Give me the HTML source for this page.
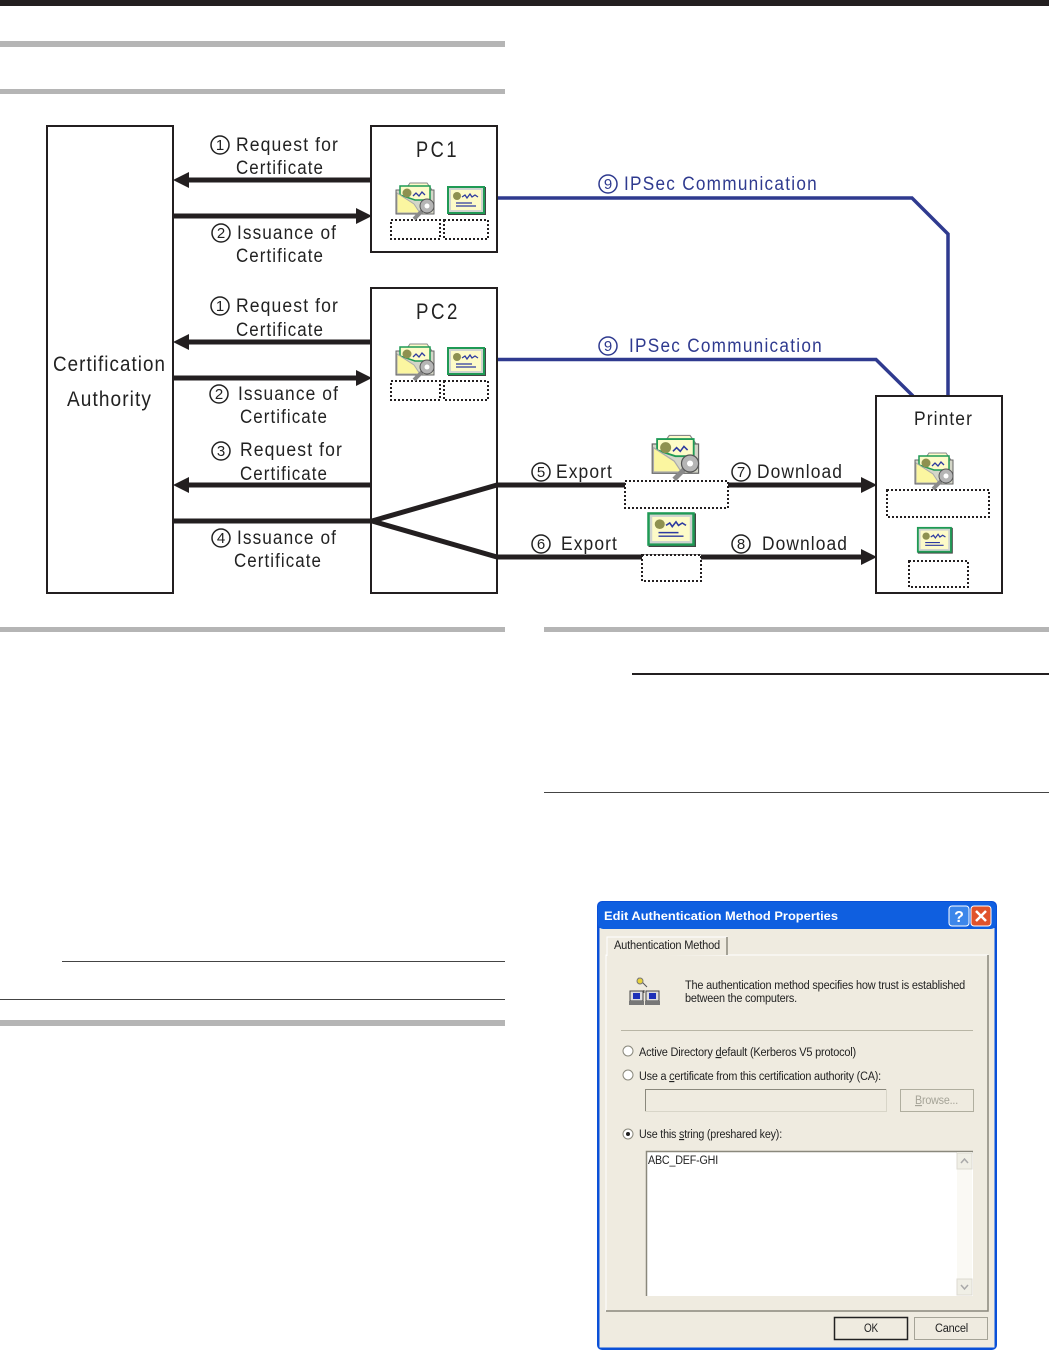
<!DOCTYPE html>
<html>
<head>
<meta charset="utf-8">
<style>
html,body{margin:0;padding:0;background:#fff}
svg{display:block}
text{font-family:"Liberation Sans",sans-serif}
.l{font-size:19px;fill:#222;letter-spacing:1.2px}
.b{font-size:19px;fill:#2f3a8f;letter-spacing:1.4px}
.n{font-size:15px;fill:#222;text-anchor:middle}
.d{font-size:11.5px;fill:#222;letter-spacing:-.2px}
</style>
</head>
<body>
<svg width="1049" height="1350" viewBox="0 0 1049 1350" xmlns="http://www.w3.org/2000/svg">
<defs>
<g id="cert">
<rect x="2" y="2" width="38" height="28" fill="#444"/>
<rect x="1" y="1" width="38" height="28" fill="#1f9a55"/>
<rect x="3" y="3" width="34" height="24" fill="#cfd3cf"/>
<rect x="5" y="5" width="30" height="20" fill="#fdfbc8"/>
<circle cx="11" cy="11" r="4" fill="#8e9150"/>
<path d="M16 12l3-2 2 3 3-4 2 3 3-2 3 2" fill="none" stroke="#2d3aa0" stroke-width="1.3"/>
<path d="M10 18h16M10 21h20" stroke="#2d3aa0" stroke-width="1.2"/>
</g>
<g id="env">
<path d="M10 9l5-7h17l5 7z" fill="#fdfbc8" stroke="#888"/>
<rect x="1" y="9" width="38" height="24" fill="#d4d6c8" stroke="#666"/>
<path d="M5 14V5h30v14H20z" fill="#fdfbc8" stroke="#1f9a55" stroke-width="1.5"/>
<path d="M2 32V12l17 11 6 9z" fill="#fbf6a0" stroke="#aaa"/>
<circle cx="12" cy="12" r="4.5" fill="#8e9150"/>
<path d="M18 15l3-3 3 3 3-4 3 3" fill="none" stroke="#2d3aa0" stroke-width="1.3"/>
<path d="M29 28L19 38" stroke="#8a8a8a" stroke-width="4"/>
<circle cx="32" cy="25" r="7" fill="#b5b5b5" stroke="#555"/>
<circle cx="32" cy="25" r="2.5" fill="#fff"/>
</g>
<g id="c"><circle r="9" fill="#fff" stroke="#222" stroke-width="1.5"/></g>
</defs>

<!-- page rules -->
<rect x="0" y="0" width="1049" height="6" fill="#231f20"/>
<rect x="0" y="41" width="505" height="6" fill="#b5b5b5"/>
<rect x="0" y="89" width="505" height="5" fill="#b5b5b5"/>
<rect x="0" y="627" width="505" height="5" fill="#b5b5b5"/>
<rect x="544" y="627" width="505" height="5" fill="#b5b5b5"/>
<rect x="0" y="1020" width="505" height="6" fill="#b5b5b5"/>
<rect x="632" y="673" width="417" height="2" fill="#231f20"/>
<rect x="544" y="792" width="505" height="1" fill="#444"/>
<rect x="62" y="961" width="443" height="1" fill="#444"/>
<rect x="0" y="999" width="505" height="1" fill="#444"/>

<!-- blue links -->
<path d="M497 198H912L948 234V397" fill="none" stroke="#2f3a8f" stroke-width="3.5"/>
<path d="M497 359.500H876L913 396" fill="none" stroke="#2f3a8f" stroke-width="3.500"/>

<!-- boxes -->
<g fill="#fff" stroke="#231f20" stroke-width="2">
<rect x="47" y="126" width="126" height="467"/>
<rect x="371" y="126" width="126" height="126"/>
<rect x="371" y="288" width="126" height="305"/>
<rect x="876" y="396" width="126" height="197"/>
</g>

<!-- black arrows -->
<g stroke="#231f20" stroke-width="5" fill="none">
<path d="M186 180H371"/>
<path d="M173 216H358"/>
<path d="M186 342H371"/>
<path d="M173 378H358"/>
<path d="M186 485H371"/>
<path d="M173 521H372"/>
<path d="M372 521L497 485H862"/>
<path d="M372 521L497 557H862"/>
</g>
<g fill="#231f20">
<path d="M173 180l16-8v16z"/>
<path d="M372 216l-16-8v16z"/>
<path d="M173 342l16-8v16z"/>
<path d="M372 378l-16-8v16z"/>
<path d="M173 485l16-8v16z"/>
<path d="M877 485l-16-8v16z"/>
<path d="M877 557l-16-8v16z"/>
</g>

<!-- box titles -->
<text class="l" x="53" y="371" style="font-size:21px" textLength="113" lengthAdjust="spacingAndGlyphs">Certification</text>
<text class="l" x="67" y="406" style="font-size:21px" textLength="85" lengthAdjust="spacingAndGlyphs">Authority</text>
<text class="l" x="416" y="157" style="font-size:22px;letter-spacing:3px" textLength="43" lengthAdjust="spacingAndGlyphs">PC1</text>
<text class="l" x="416" y="319" style="font-size:22px;letter-spacing:3px" textLength="44" lengthAdjust="spacingAndGlyphs">PC2</text>
<text class="l" x="914" y="425" textLength="59" lengthAdjust="spacingAndGlyphs">Printer</text>

<!-- dotted boxes -->
<g fill="#fff" stroke="#231f20" stroke-width="2" stroke-dasharray="2 2">
<rect x="391" y="220" width="49" height="19"/>
<rect x="444" y="220" width="44" height="19"/>
<rect x="391" y="381" width="49" height="19"/>
<rect x="444" y="381" width="44" height="19"/>
<rect x="625" y="481" width="103" height="27"/>
<rect x="642" y="555" width="59" height="26"/>
<rect x="887" y="490" width="102" height="27"/>
<rect x="909" y="561" width="59" height="26"/>
</g>

<!-- certificate icons -->
<use href="#env" x="395" y="181"/>
<use href="#cert" x="446" y="185"/>
<use href="#env" x="395" y="342"/>
<use href="#cert" x="446" y="346"/>
<use href="#env" transform="translate(651 433) scale(1.22)"/>
<use href="#cert" transform="translate(646 511) scale(1.25 1.2)"/>
<use href="#env" x="914" y="451"/>
<use href="#cert" transform="translate(916 526) scale(.92)"/>

<!-- labels left -->
<use href="#c" x="220" y="145"/><text class="n" x="220" y="150">1</text>
<text class="l" x="236" y="151" textLength="103" lengthAdjust="spacingAndGlyphs">Request for</text>
<text class="l" x="236" y="174" textLength="88" lengthAdjust="spacingAndGlyphs">Certificate</text>
<use href="#c" x="221" y="233"/><text class="n" x="221" y="238">2</text>
<text class="l" x="237" y="239" textLength="100" lengthAdjust="spacingAndGlyphs">Issuance of</text>
<text class="l" x="236" y="262" textLength="88" lengthAdjust="spacingAndGlyphs">Certificate</text>
<use href="#c" x="220" y="306"/><text class="n" x="220" y="311">1</text>
<text class="l" x="236" y="312" textLength="103" lengthAdjust="spacingAndGlyphs">Request for</text>
<text class="l" x="236" y="336" textLength="88" lengthAdjust="spacingAndGlyphs">Certificate</text>
<use href="#c" x="219" y="394"/><text class="n" x="219" y="399">2</text>
<text class="l" x="238" y="400" textLength="101" lengthAdjust="spacingAndGlyphs">Issuance of</text>
<text class="l" x="240" y="423" textLength="88" lengthAdjust="spacingAndGlyphs">Certificate</text>
<use href="#c" x="221" y="451"/><text class="n" x="221" y="456">3</text>
<text class="l" x="240" y="456" textLength="103" lengthAdjust="spacingAndGlyphs">Request for</text>
<text class="l" x="240" y="480" textLength="88" lengthAdjust="spacingAndGlyphs">Certificate</text>
<use href="#c" x="221" y="538"/><text class="n" x="221" y="543">4</text>
<text class="l" x="237" y="544" textLength="100" lengthAdjust="spacingAndGlyphs">Issuance of</text>
<text class="l" x="234" y="567" textLength="88" lengthAdjust="spacingAndGlyphs">Certificate</text>

<!-- labels right -->
<use href="#c" x="541" y="472"/><text class="n" x="541" y="477">5</text>
<text class="l" x="556" y="478" textLength="57" lengthAdjust="spacingAndGlyphs">Export</text>
<use href="#c" x="541" y="544"/><text class="n" x="541" y="549">6</text>
<text class="l" x="561" y="550" textLength="57" lengthAdjust="spacingAndGlyphs">Export</text>
<use href="#c" x="741" y="472"/><text class="n" x="741" y="477">7</text>
<text class="l" x="757" y="478" textLength="86" lengthAdjust="spacingAndGlyphs">Download</text>
<use href="#c" x="741" y="544"/><text class="n" x="741" y="549">8</text>
<text class="l" x="762" y="550" textLength="86" lengthAdjust="spacingAndGlyphs">Download</text>

<circle cx="608" cy="184" r="9" fill="#fff" stroke="#2f3a8f" stroke-width="1.500"/>
<text class="n" x="608" y="189" style="fill:#2f3a8f">9</text>
<text class="b" x="624" y="190" textLength="194" lengthAdjust="spacingAndGlyphs">IPSec Communication</text>
<circle cx="608" cy="346" r="9" fill="#fff" stroke="#2f3a8f" stroke-width="1.500"/>
<text class="n" x="608" y="351" style="fill:#2f3a8f">9</text>
<text class="b" x="629" y="352" textLength="194" lengthAdjust="spacingAndGlyphs">IPSec Communication</text>

<!-- dialog -->
<rect x="597" y="901" width="400" height="449" rx="5" fill="#0a50d8"/>
<rect x="599.500" y="928" width="395" height="419.500" fill="#efebe0"/>
<rect x="598" y="902" width="398" height="27" rx="5" fill="#0f5fe0"/>
<text x="604" y="920" style="font-size:12px;font-weight:bold;fill:#fff" textLength="234" lengthAdjust="spacingAndGlyphs">Edit Authentication Method Properties</text>
<rect x="949" y="906" width="20" height="20" rx="3" fill="#3c86ea" stroke="#fff"/>
<text x="959" y="922" text-anchor="middle" style="font-size:16px;font-weight:bold;fill:#fff">?</text>
<rect x="971" y="906" width="20" height="20" rx="3" fill="#e0532c" stroke="#fff"/>
<path d="M976 911l10 10M986 911l-10 10" stroke="#fff" stroke-width="2.500"/>

<rect x="606" y="955" width="382" height="356" fill="#efebe0" stroke="#fff"/>
<path d="M988 955V1311H606" fill="none" stroke="#8a887c" stroke-width="1.500"/>
<path d="M607 956V937h120v18" fill="#efebe0" stroke="#fff"/>
<path d="M727 937v18" stroke="#8a887c" stroke-width="1.500"/>
<text class="d" x="614" y="949" textLength="106" lengthAdjust="spacingAndGlyphs">Authentication Method</text>

<path d="M638 978l9 9M644 990v3" stroke="#555" fill="none"/>
<circle cx="640" cy="981" r="3" fill="#e8d23a" stroke="#777"/>
<rect x="630" y="991" width="13" height="10" fill="#ddd" stroke="#444"/>
<rect x="633" y="993" width="7" height="6" fill="#1c30b8"/>
<rect x="646" y="991" width="13" height="10" fill="#ddd" stroke="#444"/>
<rect x="649" y="993" width="7" height="6" fill="#1c30b8"/>
<rect x="629" y="1001" width="15" height="4" fill="#777"/>
<rect x="645" y="1001" width="15" height="4" fill="#777"/>
<text class="d" x="685" y="989" textLength="280" lengthAdjust="spacingAndGlyphs">The authentication method specifies how trust is established</text>
<text class="d" x="685" y="1002" textLength="112" lengthAdjust="spacingAndGlyphs">between the computers.</text>
<rect x="621" y="1030" width="352" height="1" fill="#b8b5a5"/>

<g fill="#fff" stroke="#8a887c"><circle cx="628" cy="1051" r="5"/><circle cx="628" cy="1075" r="5"/><circle cx="628" cy="1134" r="5"/></g>
<circle cx="628" cy="1134" r="2" fill="#222"/>
<text class="d" x="639" y="1056" textLength="217" lengthAdjust="spacingAndGlyphs">Active Directory <tspan text-decoration="underline">d</tspan>efault (Kerberos V5 protocol)</text>
<text class="d" x="639" y="1080" textLength="242" lengthAdjust="spacingAndGlyphs">Use a <tspan text-decoration="underline">c</tspan>ertificate from this certification authority (CA):</text>
<text class="d" x="639" y="1138" textLength="143" lengthAdjust="spacingAndGlyphs">Use this <tspan text-decoration="underline">s</tspan>tring (preshared key):</text>

<rect x="645.500" y="1089.500" width="241" height="22" fill="#efebe0" stroke="#d8d5c8"/>
<path d="M645.500 1111V1089.500H886" fill="none" stroke="#8a887c"/>
<rect x="900.500" y="1089.500" width="73" height="22" fill="#efebe0" stroke="#b0ae9f"/>
<text class="d" x="915" y="1104" style="fill:#a5a397" textLength="43" lengthAdjust="spacingAndGlyphs"><tspan text-decoration="underline">B</tspan>rowse...</text>

<rect x="646" y="1151" width="327" height="145" fill="#fff"/>
<path d="M646.500 1296V1151.500H973" fill="none" stroke="#8a887c" stroke-width="1.500"/>
<rect x="957" y="1152" width="15" height="143" fill="#faf9f4"/>
<rect x="957" y="1153" width="15" height="16" fill="#f0efe6" stroke="#dcdad0"/>
<rect x="957" y="1279" width="15" height="16" fill="#f0efe6" stroke="#dcdad0"/>
<path d="M961 1163l3.500-4 3.500 4M961 1285l3.500 4 3.500-4" fill="none" stroke="#aaa" stroke-width="1.500"/>
<text class="d" x="648" y="1164" textLength="70" lengthAdjust="spacingAndGlyphs">ABC_DEF-GHI</text>

<rect x="834.500" y="1317.500" width="73" height="22" fill="#efebe0" stroke="#222" stroke-width="1.500"/>
<text class="d" x="864" y="1332" textLength="14" lengthAdjust="spacingAndGlyphs">OK</text>
<rect x="914.500" y="1317.500" width="73" height="22" fill="#efebe0" stroke="#a5a397"/>
<text class="d" x="935" y="1332" textLength="33" lengthAdjust="spacingAndGlyphs">Cancel</text>
</svg>
</body>
</html>
